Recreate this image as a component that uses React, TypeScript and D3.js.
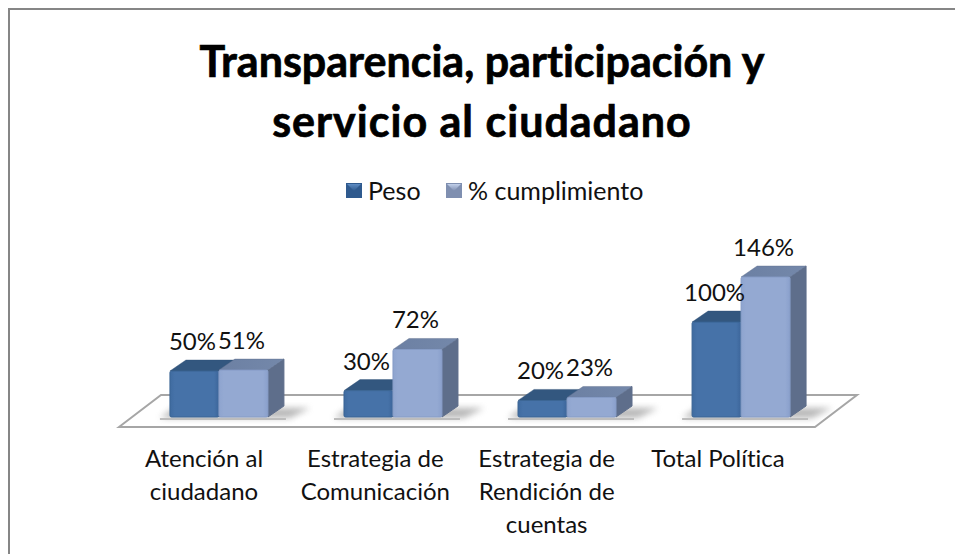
import React from 'react';
import * as d3 from 'd3';

const categories = ['Atención al ciudadano', 'Estrategia de Comunicación', 'Estrategia de Rendición de cuentas', 'Total Política'];
const categoryLines = [
    ['Atención al', 'ciudadano'],
    ['Estrategia de', 'Comunicación'],
    ['Estrategia de', 'Rendición de', 'cuentas'],
    ['Total Política'],
];
const peso = [0.5, 0.3, 0.2, 1];
const cumplimiento = [0.51, 0.72, 0.23, 1.46];
const seriesNames = ['Peso', '% cumplimiento'];
const titleLines = ['Transparencia, participación y', 'servicio al ciudadano'];
const fontFamily = 'Lato, Carlito, sans-serif';

const width = 955;
const height = 554;
const floorY = 417;
const depthX = 16;
const depthY = 11;

const x = d3.scaleBand<string>().domain(categories).range([132, 828]).paddingInner(0.437).paddingOuter(0.218);
const series = d3.scaleBand<string>().domain(seriesNames).range([0, x.bandwidth()]);
// zero sits a little under the floor because of the perspective
const y = d3.scaleLinear().domain([0, 1.46]).range([420, 277]);
const labelX = d3.scalePoint<string>().domain(categories).range([204, 718]);

const poly = (pts: number[][]) => {
    const p = d3.path();
    pts.forEach(([a, b], i) => (i ? p.lineTo(a, b) : p.moveTo(a, b)));
    p.closePath();
    return p.toString();
};

const palettes = [
    { front: 'url(#front0)', top: '#33577f', side: '#2f4f75', edge: '#3a6494' },
    { front: 'url(#front1)', top: 'url(#top1)', side: '#5e6e8b', edge: '#869cc6' },
];

const Bar = ({ left, w, value, pal }: { left: number; w: number; value: number; pal: typeof palettes[0] }) => {
    const top = y(value);
    return (
        <g>
            <path
                d={poly([[left + w, floorY], [left + w, top], [left + w + depthX, top - depthY], [left + w + depthX, floorY - depthY]])}
                fill={pal.side} stroke={pal.side} strokeWidth={1} strokeLinejoin="round"
            />
            <path
                d={poly([[left, top], [left + depthX, top - depthY], [left + w + depthX, top - depthY], [left + w, top]])}
                fill={pal.top} stroke={pal.side} strokeOpacity={0.4} strokeWidth={1} strokeLinejoin="round"
            />
            <rect x={left} y={top} width={w} height={floorY - top} fill={pal.front} stroke={pal.edge} strokeWidth={1} rx={1.5} />
        </g>
    );
};

export default function App() {
    const barW = series.bandwidth();
    const floorLeft = x.range()[0] - 13;
    const floorRight = x.range()[1] - 13;
    return (
        <svg width={width} height={height} style={{ position: 'absolute', left: 0, top: 0, background: '#fff', fontVariantLigatures: 'none' }} fontFamily={fontFamily}>
            <defs>
                <linearGradient id="front0" x1="0" x2="1" y1="0" y2="0">
                    <stop offset="0" stopColor="#3f6ba0" />
                    <stop offset="0.1" stopColor="#4672a8" />
                    <stop offset="0.9" stopColor="#4672a8" />
                    <stop offset="1" stopColor="#3c659a" />
                </linearGradient>
                <linearGradient id="front1" x1="0" x2="1" y1="0" y2="0">
                    <stop offset="0" stopColor="#8ea4cf" />
                    <stop offset="0.1" stopColor="#94a9d2" />
                    <stop offset="0.9" stopColor="#94a9d2" />
                    <stop offset="1" stopColor="#8aa0cc" />
                </linearGradient>
                <linearGradient id="top1" x1="0" x2="1" y1="0" y2="0">
                    <stop offset="0" stopColor="#6c80a3" />
                    <stop offset="1" stopColor="#7488aa" />
                </linearGradient>
                <linearGradient id="marker0" x1="0" x2="0" y1="0" y2="1">
                    <stop offset="0" stopColor="#5f8dc4" />
                    <stop offset="1" stopColor="#2f5a8e" />
                </linearGradient>
                <linearGradient id="marker1" x1="0" x2="0" y1="0" y2="1">
                    <stop offset="0" stopColor="#c2d0ea" />
                    <stop offset="1" stopColor="#7d8db0" />
                </linearGradient>
                <filter id="soft" x="-30%" y="-60%" width="160%" height="220%">
                    <feGaussianBlur stdDeviation="3" />
                </filter>
            </defs>

            <path d={`M${width},9H9V${height}`} fill="none" stroke="#868686" strokeWidth={2} />

            {titleLines.map((t, i) => (
                <text key={t} x={482} y={77 + i * 60} textAnchor="middle" fontSize={43} fontWeight={700} fill="#000" stroke="#000" strokeWidth={0.7} letterSpacing={i ? 1 : 0}>{t}</text>
            ))}

            {seriesNames.map((s, i) => {
                const lx = [346, 446][i];
                return (
                    <g key={s}>
                        <rect x={lx} y={183} width={16} height={15} fill={i ? '#7f8fb0' : '#2f5a8e'} />
                        <path d={poly([[lx + 1, 184], [lx + 15, 184], [lx + 8, 191]])} fill={`url(#marker${i})`} />
                        <text x={lx + 22} y={200} fontSize={25} fill="#111">{s}</text>
                    </g>
                );
            })}

            <path
                d={poly([[floorLeft, floorY + 10], [floorLeft + 42, floorY - 22], [floorRight + 42, floorY - 22], [floorRight, floorY + 10]])}
                fill="#fff" stroke="#a6a6a6" strokeWidth={2}
            />

            {categories.map((c) => {
                const left = x(c) as number;
                return (
                    <g key={c}>
                        <path
                            d={poly([[left - 10, floorY + 1], [left + 4, floorY - 9], [left + x.bandwidth() + 42, floorY - 9], [left + x.bandwidth() + 22, floorY + 1]])}
                            fill="#888" opacity={0.6} filter="url(#soft)"
                        />
                        <line x1={left - 10} x2={left + x.bandwidth() + 18} y1={floorY + 2} y2={floorY + 2} stroke="#bdbdbd" strokeWidth={2} />
                    </g>
                );
            })}

            {categories.map((c, i) => {
                const left = x(c) as number;
                return (
                    <g key={c}>
                        <Bar left={left + (series(seriesNames[0]) as number)} w={barW} value={peso[i]} pal={palettes[0]} />
                        <Bar left={left + (series(seriesNames[1]) as number)} w={barW} value={cumplimiento[i]} pal={palettes[1]} />
                    </g>
                );
            })}

            {categories.map((c, i) => {
                const left = x(c) as number;
                return (
                    <g key={c} fontSize={24} fill="#111" textAnchor="middle">
                        <text x={left + (series(seriesNames[0]) as number) + barW / 2 - 2} y={y(peso[i]) - 21}>{d3.format('.0%')(peso[i])}</text>
                        <text x={left + (series(seriesNames[1]) as number) + barW / 2 - 2} y={y(cumplimiento[i]) - 21}>{d3.format('.0%')(cumplimiento[i])}</text>
                    </g>
                );
            })}

            {categories.map((c, i) => (
                <text key={c} fontSize={24} fill="#111" textAnchor="middle">
                    {categoryLines[i].map((l, j) => (
                        <tspan key={l} x={labelX(c)} y={467 + j * 33}>{l}</tspan>
                    ))}
                </text>
            ))}
        </svg>
    );
}
